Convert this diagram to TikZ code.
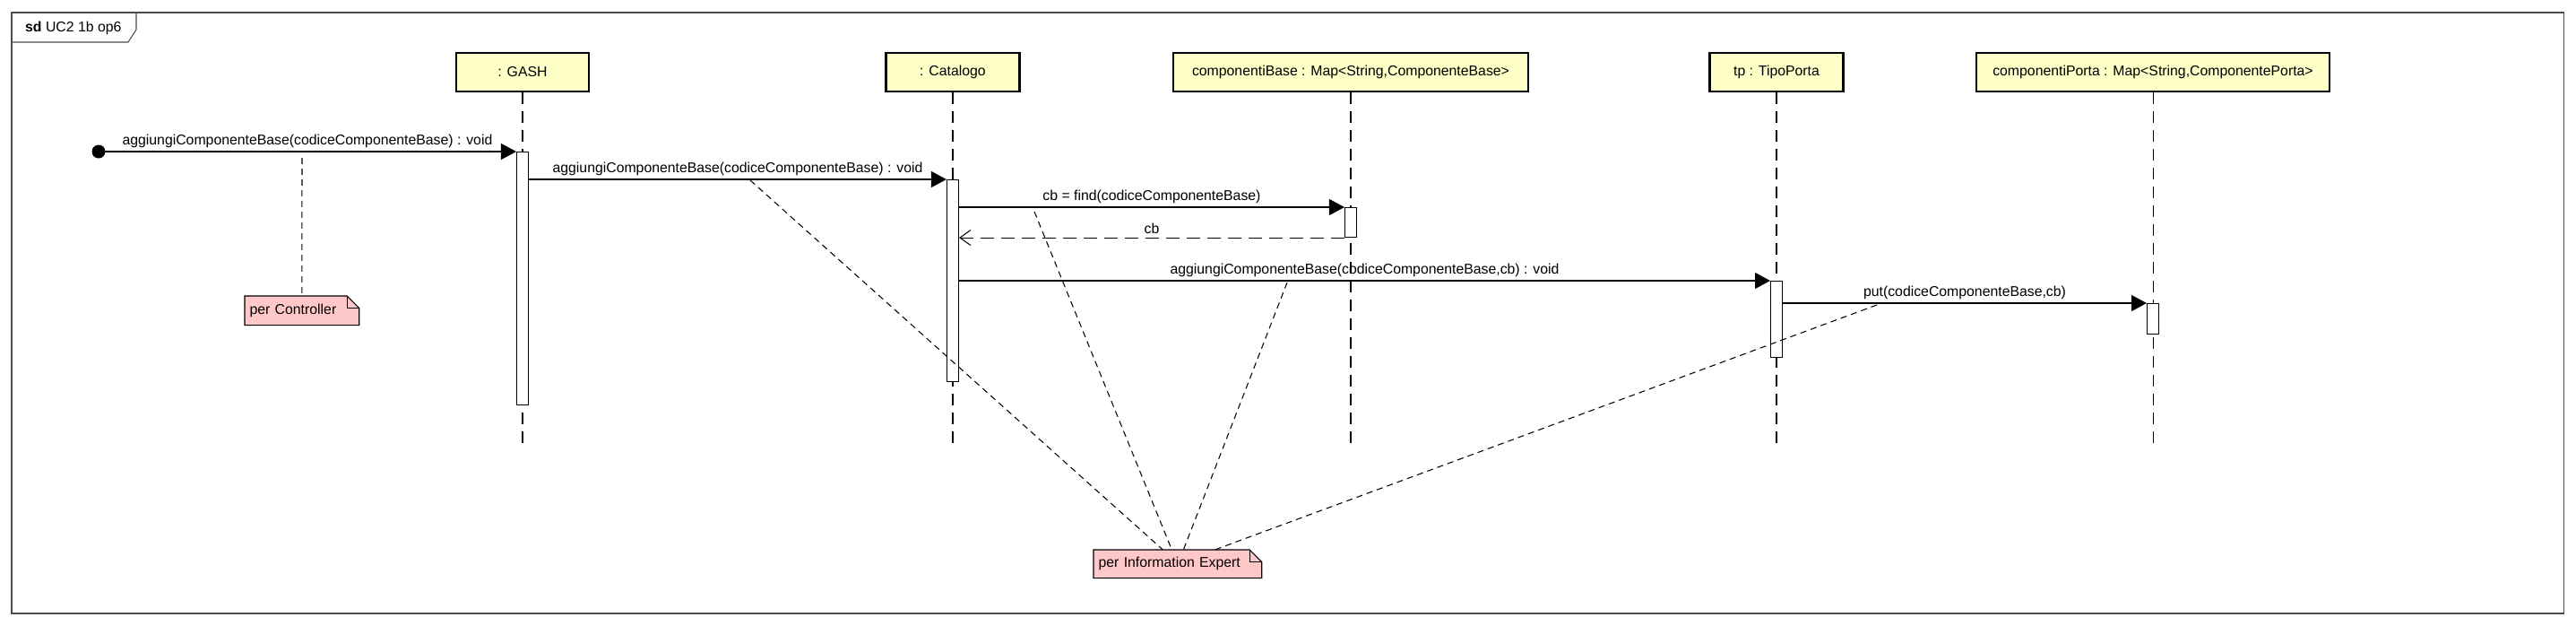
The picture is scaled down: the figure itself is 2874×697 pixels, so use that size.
\documentclass[tikz,border=0pt]{standalone}
\usepackage{fontspec}
\setmainfont{Liberation Sans}
\usetikzlibrary{arrows.meta,backgrounds}

\definecolor{giallino}{RGB}{255,255,200}
\definecolor{rosino}{RGB}{255,200,200}

\tikzset{
    testa/.style={draw, line width=1.5pt, fill=giallino, minimum height=0.86cm, inner sep=2pt},
    vita/.style={line width=0.6pt, dash pattern=on 0.26cm off 0.16cm},
    attiva/.style={draw, fill=white, line width=0.6pt, minimum width=0.26cm, inner sep=0pt, anchor=north},
    msg/.style={line width=0.6pt, -{Triangle[length=0.34cm,width=0.36cm]}},
    ritorno/.style={line width=0.6pt, dash pattern=on 0.3cm off 0.16cm, -{Straight Barb[length=0.24cm,width=0.34cm]}},
    nota/.style={anchor=north west, align=left, inner xsep=3pt, inner ysep=0pt},
    notabordo/.style={draw, line width=0.6pt, fill=rosino},
    legame/.style={line width=0.6pt, dash pattern=on 0.14cm off 0.1cm},
    etichetta/.style={above, inner sep=2pt}
}

\begin{document}
\begin{tikzpicture}[x=0.02cm, y=-0.02cm, font=\fontsize{9}{11}\selectfont]
        \useasboundingbox (0,0) rectangle (2874,697);

        % Cornice sd
        \draw[line width=0.6pt, black!70] (13,14) rectangle (2860,684);
        \draw[line width=0.6pt, black!70] (13,47) -- (143,47) -- (152,33) -- (152,14);
        \node[anchor=west] (titolo) at (22,31) {\textbf{sd} UC2 1b op6};

        % Lifeline
        \node[testa, minimum width=2.96cm] (gash) at (583,80.5) {: GASH};
        \node[testa, minimum width=2.98cm] (cat) at (1063,80.5) {: Catalogo};
        \node[testa, minimum width=7.92cm] (base) at (1507,80.5) {componentiBase : Map<String,ComponenteBase>};
        \node[testa, minimum width=2.98cm] (tipo) at (1982,80.5) {tp : TipoPorta};
        \node[testa, minimum width=7.88cm] (porta) at (2402,80.5) {componentiPorta : Map<String,ComponentePorta>};
        \foreach \l in {gash,cat,base,tipo,porta}
            \draw[vita] (\l.south) -- ++(0,397);

        % Attivazioni
        \node[attiva, minimum height=5.64cm] (aGash) at (583,169) {};
        \node[attiva, minimum height=4.5cm] (aCat) at (1063,200) {};
        \node[attiva, minimum height=0.66cm] (aBase) at (1507,231) {};
        \node[attiva, minimum height=1.7cm] (aTipo) at (1982,313) {};
        \node[attiva, minimum height=0.68cm] (aPorta) at (2402,338) {};

        % Messaggi
        \coordinate (inizio) at (110,169);
        \fill (inizio) circle[radius=0.15cm];
        \draw[msg] (inizio) -- (aGash.north west) node[etichetta, midway] {aggiungiComponenteBase(codiceComponenteBase) : void};
        \draw[msg] (aGash.east |- aCat.north) -- (aCat.north west) node[etichetta, midway] {aggiungiComponenteBase(codiceComponenteBase) : void};
        \draw[msg] (aCat.east |- aBase.north) -- (aBase.north west) node[etichetta, midway] {cb = find(codiceComponenteBase)};
        \draw[ritorno] (aBase.south west) -- (aCat.east |- aBase.south) node[etichetta, midway] {cb};
        \draw[msg] (aCat.east |- aTipo.north) -- (aTipo.north west) node[etichetta, midway] {aggiungiComponenteBase(codiceComponenteBase,cb) : void};
        \draw[msg] (aTipo.east |- aPorta.north) -- (aPorta.north west) node[etichetta, midway] {put(codiceComponenteBase,cb)};

        % Note
        \node[nota, text width=2.33cm, minimum height=0.64cm] (ctrl) at (273,330) {per Controller};
        \node[nota, text width=3.53cm, minimum height=0.62cm] (esperto) at (1220,613) {per Information Expert};
        \begin{scope}[on background layer]
            \foreach \n in {ctrl,esperto} {
                \draw[notabordo] (\n.north west) -- ([xshift=-0.27cm]\n.north east) -- ([yshift=-0.27cm]\n.north east) -- (\n.south east) -- (\n.south west) -- cycle;
                \draw[line width=0.6pt] ([xshift=-0.27cm]\n.north east) |- ([yshift=-0.27cm]\n.north east);
            }
        \end{scope}

        % Collegamenti alle note
        \coordinate (p1) at (337,176);
        \draw[legame] (p1) -- (ctrl.north);
        \coordinate (q1) at (837,201);
        \coordinate (q2) at (1154,236);
        \coordinate (q3) at (1436,315);
        \coordinate (q4) at (2094,340);
        \draw[legame] (q1) -- ([xshift=-0.33cm]esperto.north);
        \draw[legame] (q2) -- ([xshift=-0.13cm]esperto.north);
        \draw[legame] (q3) -- ([xshift=0.13cm]esperto.north);
        \draw[legame] (q4) -- ([xshift=0.83cm]esperto.north);
    \end{tikzpicture}
\end{document}
